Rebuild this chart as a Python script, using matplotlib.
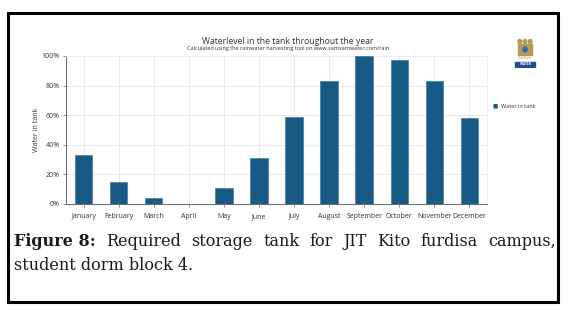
import numpy as np
import matplotlib.pyplot as plt
from matplotlib.patches import Rectangle

# ---------------- data ----------------
months = ["January", "February", "March", "April", "May", "June",
          "July", "August", "September", "October", "November", "December"]
water_level = [33, 15, 4, 0, 11, 31, 59, 83, 100, 97, 83, 58]  # percent
y_ticks = [0, 20, 40, 60, 80, 100]

BAR_COLOR = "#175a86"
SANS = ["Open Sans", "DejaVu Sans"]
SERIF = ["DejaVu Serif"]

fig = plt.figure(figsize=(5.68, 3.10), dpi=100)

# outer black frame
fig.patches.append(Rectangle((8 / 568, 1 - 302 / 310), 550 / 568, 289 / 310,
                             transform=fig.transFigure, fill=False,
                             edgecolor="black", linewidth=2.2))

ax = fig.add_axes([66 / 568, 1 - 204 / 310, 421 / 568, 148 / 310])
x = np.arange(len(months))
ax.bar(x, water_level, width=0.5, color=BAR_COLOR, edgecolor="#2f6e97",
       linewidth=0.4, zorder=3)

ax.set_xlim(-0.5, len(months) - 0.5)
ax.set_ylim(0, 100)
ax.set_xticks(x)
ax.set_xticklabels(months, fontsize=5, family=SANS, color="#333333",
                   va="baseline")
ax.set_yticks(y_ticks)
ax.set_yticklabels([f"{t}%" for t in y_ticks], fontsize=5, family=SANS,
                   color="#333333")
ax.tick_params(axis="both", length=2.5, width=0.5, color="#666666", pad=2)
ax.tick_params(axis="x", pad=7.5)
ax.grid(True, color="#e6e6e6", linewidth=0.6, zorder=0)
for side in ["top", "right"]:
    ax.spines[side].set_color("#eeeeee")
    ax.spines[side].set_linewidth(0.6)
for side in ["left", "bottom"]:
    ax.spines[side].set_color("#666666")
    ax.spines[side].set_linewidth(0.7)
ax.set_ylabel("Water in tank", fontsize=5, family=SANS, color="#333333",
              labelpad=1)

# titles
fig.text(288 / 568, 1 - 41 / 310, "Waterlevel in the tank throughout the year",
         ha="center", va="center", fontsize=6.2, family=SANS, color="#333333")
fig.text(288 / 568, 1 - 48.5 / 310,
         "Calculated using the rainwater harvesting tool on www.samsamwater.com/rain",
         ha="center", va="center", fontsize=4, family=SANS, color="#333333")

# legend
fig.text(495 / 568, 1 - 106 / 310, "\u25a0", ha="center", va="center",
         fontsize=4, color=BAR_COLOR)
fig.text(501 / 568, 1 - 106 / 310, "Water in tank", ha="left", va="center",
         fontsize=4, family=SANS, color="#333333")

# small logo
logo = fig.add_axes([512 / 568, 1 - 68 / 310, 26 / 568, 30 / 310])
logo.set_xlim(0, 1)
logo.set_ylim(0, 1)
logo.axis("off")
for cx in [0.3, 0.5, 0.7]:
    logo.add_patch(Rectangle((cx - 0.08, 0.45), 0.16, 0.35, color="#b59a5a"))
    logo.add_patch(plt.Circle((cx, 0.88), 0.07, color="#b59a5a"))
logo.add_patch(plt.Circle((0.5, 0.62), 0.08, color="#2a6fb0"))
logo.text(0.5, 0.32, "SamSam", ha="center", va="center", fontsize=2.5,
          color="#b59a5a", family=SANS)
logo.add_patch(Rectangle((0.1, 0.05), 0.8, 0.16, color="#1f4f8a"))
logo.text(0.5, 0.13, "WATER", ha="center", va="center", fontsize=2.3,
          color="white", family=SANS, weight="bold")

# caption, first line justified
fig.canvas.draw()
renderer = fig.canvas.get_renderer()
line1 = [("Figure 8:", "bold"), ("Required", "normal"), ("storage", "normal"),
         ("tank", "normal"), ("for", "normal"), ("JIT", "normal"),
         ("Kito", "normal"), ("furdisa", "normal"), ("campus,", "normal")]
left_px, right_px = 14, 556
texts = []
for word, wt in line1:
    t = fig.text(0, 1 - 242 / 310, word, fontsize=11.5, family=SERIF,
                 weight=wt, va="center", ha="left", color="#1a1a1a")
    texts.append(t)
widths = [t.get_window_extent(renderer).width for t in texts]
gap = (right_px - left_px - sum(widths)) / (len(texts) - 1)
pos = left_px
for t, w in zip(texts, widths):
    t.set_x(pos / 568)
    pos += w + gap
fig.text(14 / 568, 1 - 265 / 310, "student dorm block 4.", fontsize=11.5,
         family=SERIF, va="center", ha="left", color="#1a1a1a")

fig.savefig("out.png", dpi=100)
